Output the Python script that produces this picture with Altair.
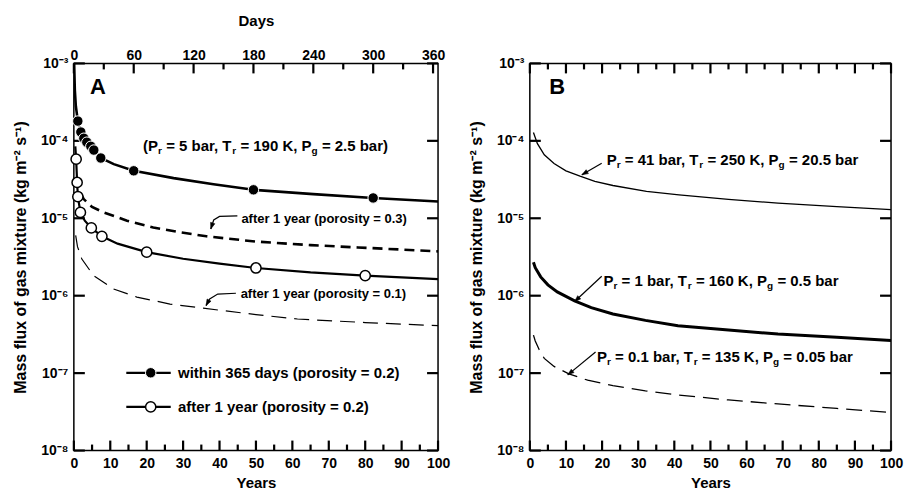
import math
import altair as alt
import pandas as pd

W_A, W_B, H = 365, 362, 388
FONT = "Liberation Sans"

# ---------------- data ----------------
# Panel A, plotted against the Days axis: within 365 days (porosity = 0.2)
a_within_curve_days = [0.3, 1, 2, 4, 7, 10, 14, 20, 27, 40, 60, 100, 140, 180, 240, 300, 365]
a_within_curve_flux = [1.0e-3, 4.5e-4, 2.8e-4, 1.8e-4, 1.3e-4, 1.08e-4, 9.4e-5, 7.6e-5, 6.0e-5,
                       5.0e-5, 4.1e-5, 3.3e-5, 2.75e-5, 2.33e-5, 2.05e-5, 1.83e-5, 1.65e-5]
a_within_mark_days = [4, 7, 10, 13, 17, 20, 27, 60, 180, 300]
a_within_mark_flux = [1.8e-4, 1.3e-4, 1.08e-4, 9.6e-5, 8.5e-5, 7.6e-5, 6.0e-5, 4.1e-5, 2.33e-5, 1.83e-5]

# Panel A, Years axis: after 1 year (porosity = 0.2)
a_after02_years = [0.4, 0.63, 0.9, 1.1, 1.8, 3, 4.8, 7.7, 12, 20, 30, 40, 50, 65, 80, 100]
a_after02_flux = [8.5e-5, 5.8e-5, 2.9e-5, 1.9e-5, 1.19e-5, 9.3e-6, 7.5e-6, 5.85e-6, 4.7e-6,
                  3.65e-6, 3.0e-6, 2.6e-6, 2.28e-6, 2.0e-6, 1.82e-6, 1.64e-6]
a_after02_mark_years = [0.63, 0.9, 1.1, 1.8, 4.8, 7.7, 20, 50, 80]
a_after02_mark_flux = [5.8e-5, 2.9e-5, 1.9e-5, 1.19e-5, 7.5e-6, 5.85e-6, 3.65e-6, 2.28e-6, 1.82e-6]
# after 1 year (porosity = 0.3)
a_after03_years = [0.5, 1.2, 2.7, 5, 8.2, 14.6, 21.8, 29.1, 36.4, 50, 65, 78, 100]
a_after03_flux = [3.3e-5, 2.4e-5, 1.77e-5, 1.4e-5, 1.19e-5, 9.3e-6, 7.6e-6, 6.6e-6, 5.85e-6,
                  5.0e-6, 4.5e-6, 4.2e-6, 3.74e-6]
# after 1 year (porosity = 0.1)
a_after01_years = [0.5, 1, 2.2, 5.4, 10.9, 17.3, 26.4, 35.5, 50, 61.4, 80, 100]
a_after01_flux = [6.0e-6, 4.3e-6, 2.98e-6, 1.82e-6, 1.22e-6, 9.6e-7, 7.8e-7, 6.9e-7, 5.7e-7,
                  5.0e-7, 4.5e-7, 4.1e-7]

# Panel B (Years)
b_41_years = [1, 2.1, 4, 6.7, 10, 13.9, 18, 23, 32.3, 41.3, 55, 68.7, 85, 100]
b_41_flux = [1.28e-4, 9.2e-5, 6.6e-5, 5.1e-5, 4.1e-5, 3.5e-5, 3.0e-5, 2.65e-5, 2.22e-5, 2.0e-5,
             1.75e-5, 1.57e-5, 1.41e-5, 1.29e-5]
b_1_years = [1, 1.5, 3, 5, 7.6, 12.4, 17, 23, 32, 41, 55, 68.7, 85, 100]
b_1_flux = [2.7e-6, 2.3e-6, 1.75e-6, 1.38e-6, 1.12e-6, 8.6e-7, 7.0e-7, 5.8e-7, 4.8e-7, 4.1e-7,
            3.6e-7, 3.2e-7, 2.9e-7, 2.64e-7]
b_01_years = [1, 1.5, 2.6, 4, 6.7, 10.8, 16, 23, 32, 41.3, 55, 68.7, 85, 100]
b_01_flux = [3.1e-7, 2.6e-7, 2.0e-7, 1.55e-7, 1.22e-7, 9.8e-8, 8.1e-8, 6.9e-8, 5.9e-8, 5.2e-8,
             4.5e-8, 4.0e-8, 3.5e-8, 3.1e-8]

# ticks
year_label_ticks = list(range(0, 101, 10))
year_minor_ticks = list(range(5, 100, 10))
day_label_ticks = list(range(0, 361, 60))
day_minor_ticks = list(range(30, 361, 60))
y_ticks = [1e-3, 1e-4, 1e-5, 1e-6, 1e-7, 1e-8]

# annotations (x in years, y in flux); "_c" marks a subscript character
a_panel_letter = ("A", 4.4, 4.9e-4)
b_panel_letter = ("B", 5.4, 4.9e-4)
a_notes = [("(P_r = 5 bar, T_r = 190 K, P_g = 2.5 bar)", 19.0, 8.5e-5, 15)]
a_small_notes = [("after 1 year (porosity = 0.3)", 46.0, 9.7e-6),
                 ("after 1 year (porosity = 0.1)", 45.8, 1.05e-6)]
b_notes = [("P_r = 41 bar, T_r = 250 K, P_g = 20.5 bar", 21.3, 5.6e-5, 15),
           ("P_r = 1 bar, T_r = 160 K, P_g = 0.5 bar", 20.4, 1.57e-6, 15),
           ("P_r = 0.1 bar, T_r = 135 K, P_g = 0.05 bar", 18.6, 1.62e-7, 15)]
a_leaders = [([44.9, 40.0, 38.4, 37.6], [1.076e-5, 1.057e-5, 9.5e-6, 7.26e-6]),
             ([44.5, 39.5, 37.3, 36.3], [1.076e-6, 1.05e-6, 9.1e-7, 7.45e-7])]
b_leaders = [([19.9, 14.4], [5.14e-5, 3.64e-5]),
             ([19.9, 12.4], [1.78e-6, 8.4e-7]),
             ([18.2, 10.5], [1.87e-7, 9.5e-8])]
legend_labels = ["within 365 days (porosity = 0.2)", "after 1 year (porosity = 0.2)"]
legend_y = [1.01e-7, 3.66e-8]
legend_line_x = [14.4, 26.6]
legend_mark_x = 21.1
legend_text_x = 28.6

# ---------------- helpers ----------------
AB = {' ': 278, '(': 333, ')': 333, ',': 278, '.': 278, '=': 584, '-': 333,
      'A': 722, 'B': 722, 'K': 722, 'P': 667, 'T': 611,
      'a': 556, 'b': 611, 'd': 611, 'e': 556, 'f': 333, 'g': 611, 'h': 611, 'i': 278,
      'k': 556, 'l': 278, 'm': 889, 'n': 611, 'o': 611, 'p': 611, 'r': 389, 's': 556,
      't': 333, 'u': 611, 'w': 778, 'x': 556, 'y': 556}
for d in "0123456789":
    AB[d] = 556


def tw(s, size):
    return sum(AB.get(c, 556) for c in s) * size / 1000.0


def rich_rows(label, x0, y0, unit_px, size, sub_size):
    main, sub = [], []
    state = {"off": 0.0, "buf": ""}

    def flush():
        buf = state["buf"]
        if buf:
            stripped = buf.lstrip(' ')
            state["off"] += tw(buf[:len(buf) - len(stripped)], size)
            if stripped:
                main.append({'x': x0 + state["off"] / unit_px, 'y': y0, 't': stripped})
                state["off"] += tw(stripped, size)
            state["buf"] = ""

    i = 0
    while i < len(label):
        c = label[i]
        if c == '_' and i + 1 < len(label):
            flush()
            s = label[i + 1]
            sub.append({'x': x0 + state["off"] / unit_px, 'y': y0, 't': s})
            state["off"] += tw(s, sub_size)
            i += 2
        else:
            state["buf"] += c
            i += 1
    flush()
    return main, sub


XS_Y = alt.Scale(domain=[0, 100], nice=False, zero=False)
XS_D = alt.Scale(domain=[0, 365], nice=False, zero=False)
YS = alt.Scale(type='log', domain=[1e-8, 1e-3], nice=False)


def xy(chart, xaxis=None, yaxis=None, xscale=XS_Y):
    return chart.encode(x=alt.X('x:Q', scale=xscale, axis=xaxis),
                        y=alt.Y('y:Q', scale=YS, axis=yaxis))


def df(xs, ys):
    return pd.DataFrame({'x': xs, 'y': ys})


Y_EXPR = ("datum.value > 5e-4 ? '10⁻³' : datum.value > 5e-5 ? '10⁻⁴' : "
          "datum.value > 5e-6 ? '10⁻⁵' : datum.value > 5e-7 ? '10⁻⁶' : "
          "datum.value > 5e-8 ? '10⁻⁷' : '10⁻⁸'")
Y_TITLE = "Mass flux of gas mixture (kg m⁻² s⁻¹)"


def y_label_axis():
    return alt.Axis(orient='left', values=y_ticks, ticks=False, domain=False, grid=False,
                    labelExpr=Y_EXPR, labelPadding=6, title=Y_TITLE, titleFontSize=16,
                    titlePadding=12)


def x_label_axis(orient, values, title, lp, tp):
    return alt.Axis(orient=orient, values=values, ticks=False, domain=False, grid=False,
                    labelFlush=False, labelOverlap=False, labelPadding=lp, title=title,
                    titlePadding=tp)


def tick_lines(values, side, length, W, xdom=100, xscale=XS_Y):
    """Inward tick marks drawn as short line segments through the chart scales."""
    f = 10 ** (5.0 * length / H)
    rows = []
    for i, v in enumerate(values):
        if side == 'bottom':
            pts = [(v, 1e-8), (v, 1e-8 * f)]
        elif side == 'top':
            pts = [(v, 1e-3), (v, 1e-3 / f)]
        elif side == 'left':
            pts = [(0, v), (length / W * xdom, v)]
        else:
            pts = [(xdom, v), (xdom - length / W * xdom, v)]
        for o, (x, y) in enumerate(pts):
            rows.append({'x': x, 'y': y, 'g': i, 'o': o})
    return xy(alt.Chart(pd.DataFrame(rows)).mark_line(color='black', strokeWidth=2.2),
              xscale=xscale).encode(detail='g:N', order='o:Q')


def text_layers(notes, unit_px, sub_dy=5):
    mains, subs = [], []
    for label, x0, y0, size in notes:
        m, s = rich_rows(label, x0, y0, unit_px, size, size * 0.68)
        mains += m
        subs += s
    out = [xy(alt.Chart(pd.DataFrame(mains)).mark_text(
        align='left', baseline='middle', font=FONT, fontWeight='bold', fontSize=15,
        color='black')).encode(text='t:N')]
    if subs:
        out.append(xy(alt.Chart(pd.DataFrame(subs)).mark_text(
            align='left', baseline='middle', font=FONT, fontWeight='bold', fontSize=10,
            dy=sub_dy, color='black')).encode(text='t:N'))
    return out


def plain_text(rows, size):
    d = pd.DataFrame([{'t': t, 'x': x, 'y': y} for t, x, y in rows])
    return xy(alt.Chart(d).mark_text(align='left', baseline='middle', font=FONT,
                                      fontWeight='bold', fontSize=size, color='black')
              ).encode(text='t:N')


ARROW = "M0,0L0.75,2.1L-0.75,2.1Z"


def leader_layers(leaders, W):
    rows, heads = [], []
    for g, (xs, ys) in enumerate(leaders):
        for o, (x, y) in enumerate(zip(xs, ys)):
            rows.append({'x': x, 'y': y, 'g': g, 'o': o})
        px = [x / 100 * W for x in xs]
        py = [(-3 - math.log10(y)) / 5 * H for y in ys]
        dx, dy = px[-1] - px[-2], py[-1] - py[-2]
        ang = math.degrees(math.atan2(dx, -dy)) % 360
        heads.append({'x': xs[-1], 'y': ys[-1], 'a': ang})
    line = xy(alt.Chart(pd.DataFrame(rows)).mark_line(color='black', strokeWidth=1.2)
              ).encode(detail='g:N', order='o:Q')
    head = xy(alt.Chart(pd.DataFrame(heads)).mark_point(
        shape=ARROW, filled=True, fill='black', stroke='black', strokeWidth=0.5,
        size=36, opacity=1)).encode(angle=alt.Angle('a:Q', scale=None))
    return [line, head]


# ---------------- Panel A ----------------
a_years_layers = [
    xy(alt.Chart(df(a_after02_years, a_after02_flux)).mark_line(
        color='black', strokeWidth=2.2, clip=True),
       xaxis=x_label_axis('bottom', year_label_ticks, 'Years', 6, 5),
       yaxis=y_label_axis()),
    xy(alt.Chart(df(a_after03_years, a_after03_flux)).mark_line(
        color='black', strokeWidth=2.6, strokeDash=[10, 6], clip=True)),
    xy(alt.Chart(df(a_after01_years, a_after01_flux)).mark_line(
        color='black', strokeWidth=1.2, strokeDash=[15, 8], clip=True)),
    xy(alt.Chart(df(a_after02_mark_years, a_after02_mark_flux)).mark_point(
        shape='circle', filled=True, fill='white', stroke='black', strokeWidth=1.5,
        size=105, opacity=1)),
    tick_lines(year_label_ticks, 'bottom', 10, W_A),
    tick_lines(year_minor_ticks, 'bottom', 6, W_A),
    tick_lines(y_ticks, 'left', 11, W_A),
    tick_lines(y_ticks, 'right', 11, W_A),
]
a_years_layers += text_layers(a_notes, W_A / 100)
a_years_layers.append(plain_text(a_small_notes, 13))
a_years_layers.append(plain_text([(a_panel_letter[0], a_panel_letter[1], a_panel_letter[2])], 22))
a_years_layers += leader_layers(a_leaders, W_A)
# legend
leg_lines = pd.DataFrame({'x': legend_line_x * 2, 'y': [legend_y[0]] * 2 + [legend_y[1]] * 2,
                          'g': [0, 0, 1, 1]})
a_years_layers.append(xy(alt.Chart(leg_lines).mark_line(color='black', strokeWidth=2.3)
                         ).encode(detail='g:N'))
a_years_layers.append(xy(alt.Chart(df([legend_mark_x], [legend_y[0]])).mark_point(
    shape='circle', filled=True, fill='black', stroke='white', strokeWidth=1, size=110, opacity=1)))
a_years_layers.append(xy(alt.Chart(df([legend_mark_x], [legend_y[1]])).mark_point(
    shape='circle', filled=True, fill='white', stroke='black', strokeWidth=1.5, size=105, opacity=1)))
a_years_layers.append(plain_text([(legend_labels[0], legend_text_x, legend_y[0]),
                                  (legend_labels[1], legend_text_x, legend_y[1])], 15))

a_years = alt.layer(*a_years_layers).resolve_axis(x='independent', y='independent')

a_days = alt.layer(
    xy(alt.Chart(df(a_within_curve_days, a_within_curve_flux)).mark_line(
        color='black', strokeWidth=2.6, clip=True),
       xaxis=x_label_axis('top', day_label_ticks, 'Days', 1, 20), xscale=XS_D),
    xy(alt.Chart(df(a_within_mark_days, a_within_mark_flux)).mark_point(
        shape='circle', filled=True, fill='black', stroke='white', strokeWidth=1,
        size=110, opacity=1), xscale=XS_D),
    tick_lines(day_label_ticks, 'top', 10, W_A, 365, XS_D),
    tick_lines(day_minor_ticks, 'top', 6, W_A, 365, XS_D),
).resolve_axis(x='independent', y='independent')

panel_a = alt.layer(a_years, a_days).resolve_scale(x='independent').resolve_axis(
    x='independent', y='independent').properties(width=W_A, height=H)

# ---------------- Panel B ----------------
b_layers = [
    xy(alt.Chart(df(b_41_years, b_41_flux)).mark_line(color='black', strokeWidth=1.3, clip=True),
       xaxis=x_label_axis('bottom', year_label_ticks, 'Years', 6, 5), yaxis=y_label_axis()),
    xy(alt.Chart(df(b_1_years, b_1_flux)).mark_line(color='black', strokeWidth=3, clip=True)),
    xy(alt.Chart(df(b_01_years, b_01_flux)).mark_line(
        color='black', strokeWidth=1.3, strokeDash=[16, 8], clip=True)),
    tick_lines(year_label_ticks, 'bottom', 10, W_B),
    tick_lines(year_minor_ticks, 'bottom', 6, W_B),
    tick_lines(year_label_ticks, 'top', 10, W_B),
    tick_lines(year_minor_ticks, 'top', 6, W_B),
    tick_lines(y_ticks, 'left', 11, W_B),
    tick_lines(y_ticks, 'right', 11, W_B),
]
b_layers += text_layers(b_notes, W_B / 100)
b_layers.append(plain_text([(b_panel_letter[0], b_panel_letter[1], b_panel_letter[2])], 22))
b_layers += leader_layers(b_leaders, W_B)
panel_b = alt.layer(*b_layers).resolve_axis(x='independent', y='independent').properties(
    width=W_B, height=H)

chart = alt.hconcat(panel_a, panel_b, spacing=16).properties(
    padding={'left': 3, 'top': 4, 'right': 0, 'bottom': 0},
    background='white'
).configure_view(stroke='black', strokeWidth=1.5).configure_axis(
    labelFont=FONT, labelFontWeight='bold', labelFontSize=14, labelColor='black',
    titleFont=FONT, titleFontWeight='bold', titleFontSize=15, titleColor='black',
    tickColor='black')

chart.save("out.html", embed_options={"renderer": "svg", "actions": False})
